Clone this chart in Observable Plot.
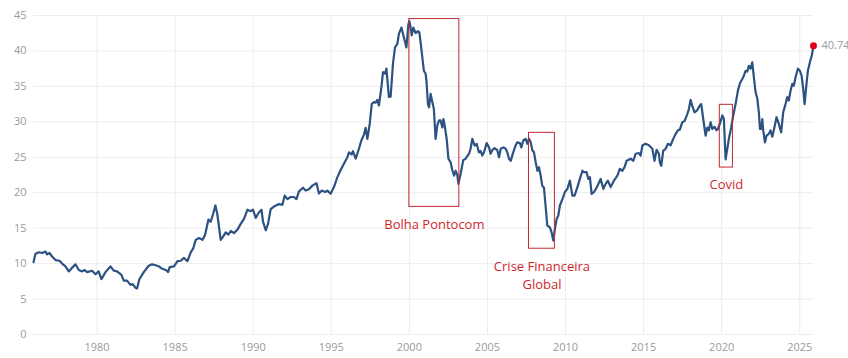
<!DOCTYPE html>
<html>
<head>
<meta charset="utf-8">
<script src="https://cdn.jsdelivr.net/npm/d3@7"></script>
<script src="https://cdn.jsdelivr.net/npm/@observablehq/plot@0.6"></script>
<style>
  html, body { margin: 0; padding: 0; background: #fff; }
  #chart svg { display: block; }
</style>
</head>
<body>
<div id="chart"></div>
<script>
// ---- data (decimal years, values) ----
const years = [
1975.93,1976.06,1976.27,1976.5,1976.7,1976.8,1976.95,1977.12,1977.34,1977.6,1977.76,1977.98,
1978.19,1978.4,1978.62,1978.83,1979.04,1979.2,1979.36,1979.68,1979.9,1980.1,1980.28,1980.54,
1980.86,1981.07,1981.28,1981.56,1981.71,1981.92,1982.14,1982.28,1982.46,1982.56,1982.71,1982.99,
1983.31,1983.52,1983.71,1983.97,1984.14,1984.4,1984.55,1984.65,1984.93,1985.15,1985.36,1985.57,
1985.79,1986.0,1986.15,1986.32,1986.53,1986.75,1986.91,1987.13,1987.28,1987.43,1987.58,1987.7,
1987.92,1988.07,1988.24,1988.41,1988.56,1988.77,1988.99,1989.2,1989.41,1989.63,1989.84,1989.99,
1990.16,1990.37,1990.53,1990.63,1990.8,1990.95,1991.12,1991.33,1991.65,1991.87,1992.02,1992.19,
1992.4,1992.61,1992.77,1992.93,1993.19,1993.36,1993.57,1993.79,1994.05,1994.21,1994.39,1994.6,
1994.75,1994.96,1995.17,1995.39,1995.6,1995.81,1996.03,1996.13,1996.3,1996.39,1996.56,1996.77,
1996.93,1997.09,1997.2,1997.31,1997.46,1997.59,1997.73,1997.84,1997.95,1998.05,1998.21,1998.31,
1998.44,1998.53,1998.69,1998.8,1998.95,1999.08,1999.23,1999.33,1999.49,1999.65,1999.81,1999.94,
2000.0,2000.08,2000.15,2000.26,2000.4,2000.55,2000.64,2000.72,2000.83,2000.93,2001.04,2001.1,
2001.19,2001.26,2001.36,2001.47,2001.57,2001.68,2001.79,2001.9,2002.0,2002.11,2002.18,2002.26,
2002.39,2002.5,2002.64,2002.75,2002.86,2002.96,2003.07,2003.14,2003.28,2003.45,2003.6,2003.82,
2003.92,2004.03,2004.18,2004.31,2004.45,2004.56,2004.67,2004.78,2004.95,2005.1,2005.2,2005.31,
2005.46,2005.63,2005.74,2005.85,2006.02,2006.17,2006.27,2006.38,2006.49,2006.65,2006.8,2006.91,
2007.08,2007.17,2007.3,2007.45,2007.56,2007.66,2007.77,2007.88,2007.98,2008.09,2008.2,2008.3,
2008.41,2008.51,2008.62,2008.73,2008.83,2009.0,2009.11,2009.22,2009.32,2009.43,2009.54,2009.64,
2009.8,2009.96,2010.12,2010.28,2010.44,2010.58,2010.76,2010.92,2011.08,2011.18,2011.35,2011.46,
2011.56,2011.67,2011.82,2011.99,2012.25,2012.42,2012.57,2012.71,2012.89,2013.1,2013.32,2013.48,
2013.64,2013.78,2013.91,2014.17,2014.34,2014.49,2014.7,2014.81,2014.92,2015.13,2015.34,2015.56,
2015.7,2015.83,2015.98,2016.04,2016.13,2016.26,2016.41,2016.56,2016.73,2016.9,2017.05,2017.2,
2017.32,2017.48,2017.62,2017.8,2017.9,2018.01,2018.12,2018.26,2018.39,2018.48,2018.6,2018.69,
2018.82,2018.97,2019.08,2019.18,2019.29,2019.4,2019.55,2019.67,2019.76,2019.88,2020.04,2020.14,
2020.25,2020.36,2020.46,2020.61,2020.74,2020.89,2021.04,2021.17,2021.32,2021.42,2021.53,2021.64,
2021.74,2021.85,2021.96,2022.06,2022.17,2022.28,2022.38,2022.45,2022.53,2022.6,2022.66,2022.77,
2022.87,2023.02,2023.13,2023.24,2023.34,2023.51,2023.66,2023.81,2023.94,2024.09,2024.2,2024.3,
2024.41,2024.52,2024.62,2024.73,2024.88,2025.01,2025.12,2025.22,2025.31,2025.42,2025.52,2025.65,
2025.77,2025.88
];
const values = [
10.2,11.4,11.6,11.5,11.7,11.3,11.5,11.0,10.5,10.4,10.0,9.6,
8.9,9.4,9.9,9.1,8.9,9.1,8.8,9.0,8.5,8.9,7.8,8.8,
9.6,9.0,8.9,8.4,7.6,7.6,7.0,7.1,6.6,6.5,7.8,8.8,
9.7,9.9,9.8,9.6,9.3,9.1,8.8,9.5,9.6,10.35,10.4,10.8,
10.35,11.6,12.1,13.35,13.6,13.35,14.0,16.2,15.9,17.0,18.2,17.0,
13.35,13.8,14.4,14.1,14.6,14.3,14.8,15.6,16.3,17.6,17.4,17.6,
16.45,17.25,17.6,15.9,14.7,15.6,17.7,18.05,18.4,18.3,19.6,19.1,
19.4,19.4,19.1,20.2,20.7,20.3,20.5,21.0,21.35,19.9,20.3,20.1,
20.3,19.85,20.8,22.2,23.2,24.1,25.0,25.7,25.4,25.85,24.8,26.2,
27.4,28.2,29.15,27.6,29.7,32.5,32.8,32.7,33.1,32.3,34.9,37.0,
36.8,37.5,33.5,33.55,38.2,40.5,41.0,42.4,43.3,41.9,40.5,43.8,
44.2,43.3,42.2,43.3,42.5,42.8,42.6,41.2,39.1,37.2,36.8,35.6,
32.5,32.05,33.95,32.8,31.8,27.6,29.5,30.2,30.2,29.2,30.4,29.5,
27.6,24.8,24.3,23.2,22.4,23.1,22.5,21.25,22.65,24.6,24.8,25.5,
26.2,27.6,26.65,26.9,25.7,25.9,25.25,25.7,27.0,26.4,25.5,26.0,
26.3,26.0,25.0,26.2,26.4,26.2,25.7,24.8,24.5,25.7,26.65,27.1,
27.0,26.4,27.4,27.6,26.9,27.6,27.1,25.95,25.7,24.3,23.1,23.6,
22.4,21.0,20.7,17.95,15.4,15.1,14.4,13.25,14.9,16.3,16.8,18.2,
19.1,20.1,20.55,21.7,19.6,19.6,20.8,21.95,23.1,22.9,22.9,21.95,
22.2,19.85,20.1,20.7,21.95,20.55,21.25,21.7,20.8,21.7,22.4,23.35,
23.1,23.6,24.5,24.8,24.5,25.5,25.6,25.25,26.65,26.9,26.7,26.2,
24.5,26.05,25.5,24.3,23.8,25.95,26.2,26.9,26.7,27.6,28.3,28.8,
28.9,29.95,30.1,31.1,31.8,33.1,32.2,31.35,31.55,31.8,32.3,32.5,
30.4,28.05,29.2,28.8,29.95,29.0,29.3,28.8,29.0,29.7,30.9,30.4,
24.7,26.2,27.6,29.2,30.9,32.5,34.4,35.45,36.05,36.5,37.2,37.1,
37.9,37.5,38.4,36.3,34.2,33.3,31.35,29.0,29.0,30.4,28.8,27.1,
28.05,28.3,28.8,27.9,28.8,30.65,29.7,28.5,31.35,32.5,33.5,33.0,
34.4,35.35,35.1,36.3,37.5,37.2,36.5,34.65,32.5,35.1,37.2,38.4,
39.35,40.74
];

// x-axis tick labels and y ticks
const xTicks = [1980, 1985, 1990, 1995, 2000, 2005, 2010, 2015, 2020, 2025];
const yTicks = [0, 5, 10, 15, 20, 25, 30, 35, 40, 45];

// annotation boxes (data coordinates)
const annoLabels = ["Bolha Pontocom", "Crise Financeira\nGlobal", "Covid"];
const annoX1 = [2000.0, 2007.66, 2019.88];
const annoX2 = [2003.2, 2009.32, 2020.72];
const annoY1 = [18.0, 12.1, 23.55];
const annoY2 = [44.5, 28.45, 32.4];

// ---- build ----
const series = years.map((y, i) => ({year: y, value: values[i]}));
const last = series[series.length - 1];
const annos = annoLabels.map((t, i) => ({label: t, x1: annoX1[i], x2: annoX2[i], y1: annoY1[i], y2: annoY2[i]}));

const RED = "#d11f2e";
const chart = Plot.plot({
  width: 848,
  height: 358,
  marginLeft: 33,
  marginRight: 35,
  marginTop: 15,
  marginBottom: 24,
  style: {fontFamily: "'Open Sans', sans-serif", fontSize: "11px", background: "#fff", overflow: "visible"},
  x: {domain: [years[0], last.year], ticks: xTicks, tickFormat: d => String(d), tickSize: 0, tickPadding: 9, label: null},
  y: {domain: [0, 45], ticks: yTicks, tickSize: 0, tickPadding: 7, label: null},
  marks: [
    Plot.gridX(xTicks, {stroke: "#ececec", strokeOpacity: 1}),
    Plot.gridY(yTicks, {stroke: "#ececec", strokeOpacity: 1}),
    Plot.axisX({ticks: xTicks, tickFormat: d => String(d), tickSize: 0, tickPadding: 9, color: "#9a9a9a", fontSize: 11}),
    Plot.axisY({ticks: yTicks, tickSize: 0, tickPadding: 7, color: "#9a9a9a", fontSize: 11}),
    Plot.line(series, {x: "year", y: "value", stroke: "#2c5282", strokeWidth: 2.2, strokeLinejoin: "round"}),
    Plot.rect(annos, {x1: "x1", x2: "x2", y1: "y1", y2: "y2", fill: "none", stroke: "#c0282f", strokeWidth: 1}),
    Plot.text(annos, {x: d => (d.x1 + d.x2) / 2, y: "y1", text: "label", dy: 9, lineAnchor: "top", lineHeight: 1.4, fill: RED, fontSize: 13}),
    Plot.dot([last], {x: "year", y: "value", r: 3.5, fill: "#e0001b", stroke: "none"}),
    Plot.text([last], {x: "year", y: "value", text: d => d.value.toFixed(2), dx: 8, textAnchor: "start", fill: "#9a9a9a", fontSize: 11})
  ]
});
document.getElementById("chart").appendChild(chart);
</script>
</body>
</html>
